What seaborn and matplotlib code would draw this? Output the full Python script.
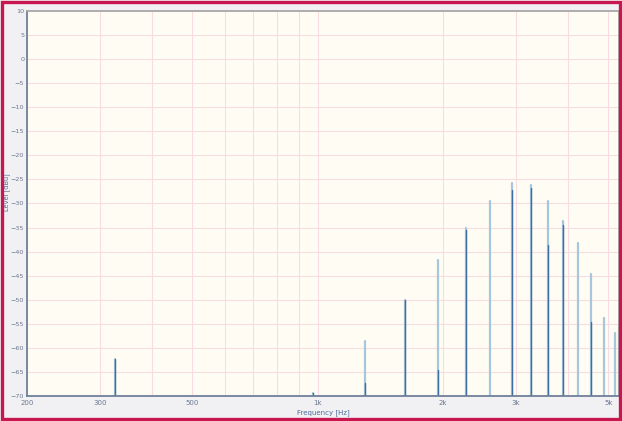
import numpy as np
import pandas as pd
import matplotlib
matplotlib.use('Agg')
import matplotlib.pyplot as plt
import matplotlib.ticker as mticker
from matplotlib.patches import Rectangle
import seaborn as sns

# harmonic peaks
freqs = [325, 975, 1300, 1625, 1950, 2275, 2600, 2925, 3250, 3575,
         3900, 4225, 4550, 4875, 5200, 5290]
light_level = [-62.4, -69.3, -58.6, -50.0, -41.8, -35.0, -29.4, -25.8, -26.2, -29.4,
               -33.6, -38.2, -44.7, -53.8, -56.9, -55.6]
dark_level = [-62.4, -69.3, -67.3, -50.0, -64.6, -35.5, np.nan, -27.2, -26.8, -38.6,
              -34.5, np.nan, -54.6, np.nan, np.nan, -55.6]

floor = -70
xticks = [200, 300, 500, 1000, 2000, 3000, 5000]
xtick_labels = ['200', '300', '500', '1k', '2k', '3k', '5k']
yticks = list(range(-70, 15, 5))

rows = []
for i, f in enumerate(freqs):
    for name, lev in (('light', light_level[i]), ('dark', dark_level[i])):
        if np.isnan(lev):
            continue
        rows.append((name, i, f, floor))
        rows.append((name, i, f, lev))
df = pd.DataFrame(rows, columns=['series', 'peak', 'freq', 'level'])

sns.set_style('white')
plt.rcParams['font.family'] = ['DejaVu Sans']

fig = plt.figure(figsize=(6.22, 4.21), dpi=100, facecolor='#f1f1f4')
ax = fig.add_axes([0.0434, 0.0594, 0.9516, 0.9146])
ax.set_facecolor('#fffdf3')

sns.lineplot(data=df[df.series == 'light'], x='freq', y='level', units='peak',
             estimator=None, sort=False, color='#a6c6de', linewidth=1.6, ax=ax)
sns.lineplot(data=df[df.series == 'dark'], x='freq', y='level', units='peak',
             estimator=None, sort=False, color='#3b6ea3', linewidth=1.0, ax=ax)

ax.set_xscale('log')
ax.set_xlim(200, 5300)
ax.set_ylim(-70, 10)
ax.xaxis.set_major_locator(mticker.FixedLocator(xticks))
ax.xaxis.set_major_formatter(mticker.FixedFormatter(xtick_labels))
ax.xaxis.set_minor_locator(mticker.FixedLocator([400, 600, 700, 800, 900, 4000]))
ax.xaxis.set_minor_formatter(mticker.NullFormatter())
ax.set_yticks(yticks)

ax.grid(True, which='both', color='#f8dce2', linewidth=0.8)
ax.set_axisbelow(True)
ax.tick_params(axis='x', which='both', length=0, labelsize=5, colors='#6b7890', pad=3)
ax.tick_params(axis='y', which='both', length=0, labelsize=4.6, colors='#6b7890', pad=2)

ax.set_xlabel('Frequency [Hz]', fontsize=5, color='#4f6a98')
ax.set_ylabel('Level [dBu]', fontsize=4.8, color='#4f6a98')
ax.xaxis.set_label_coords(0.5, -0.035)
ax.yaxis.set_label_coords(-0.029, 0.53)

for s in ('left', 'bottom'):
    ax.spines[s].set_color('#70809a')
    ax.spines[s].set_linewidth(1.3)
for s in ('top', 'right'):
    ax.spines[s].set_color('#a8a8a8')
    ax.spines[s].set_linewidth(1.3)

fig.patches.append(Rectangle((0.003, 0.004), 0.994, 0.991, transform=fig.transFigure,
                             fill=False, edgecolor='#c8174f', linewidth=2.4))

fig.savefig('out.png', dpi=100, facecolor=fig.get_facecolor())
